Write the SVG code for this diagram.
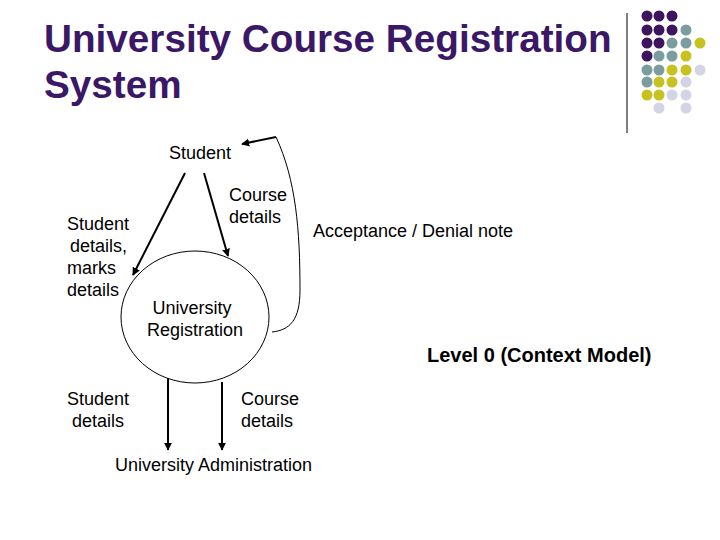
<svg xmlns="http://www.w3.org/2000/svg" width="720" height="540" viewBox="0 0 720 540">
<defs>
<style>
.t{font-family:"Liberation Sans",Arial,sans-serif;font-size:18px;fill:#000}
.title{font-family:"Liberation Sans",Arial,sans-serif;font-size:38.7px;font-weight:bold;fill:#3b1866}
.b{font-weight:bold;font-size:20px}
.ln{stroke:#000;stroke-width:2;fill:none}
.thin{stroke:#000;stroke-width:1;fill:none}
.p{fill:#3d145e}.g{fill:#7b9d9f}.y{fill:#c6c21f}.l{fill:#d4d4e6}
</style>
<marker id="ah" viewBox="0 0 10 10" refX="9" refY="5" markerWidth="4" markerHeight="4" orient="auto" markerUnits="strokeWidth">
<path d="M0,0 L10,5 L0,10 z" fill="#000"/>
</marker>
</defs>
<rect width="720" height="540" fill="#fff"/>
<g id="title">
<text class="title" x="44" y="52">University Course Registration</text>
<text class="title" x="44" y="98">System</text>
</g>
<g id="decoration">
<line x1="627" y1="13" x2="627" y2="133" stroke="#000" stroke-width="1"/>
<circle class="p" cx="647" cy="16" r="5.5"/><circle class="p" cx="659" cy="16" r="5.5"/><circle class="p" cx="672" cy="16" r="5.5"/>
<circle class="p" cx="647" cy="30" r="5.5"/><circle class="p" cx="659" cy="30" r="5.5"/><circle class="p" cx="672" cy="30" r="5.5"/><circle class="g" cx="686" cy="30" r="5.5"/>
<circle class="p" cx="647" cy="43" r="5.5"/><circle class="p" cx="659" cy="43" r="5.5"/><circle class="g" cx="672" cy="43" r="5.5"/><circle class="g" cx="686" cy="43" r="5.5"/><circle class="y" cx="700" cy="43" r="5.5"/>
<circle class="p" cx="647" cy="56" r="5.5"/><circle class="g" cx="659" cy="56" r="5.5"/><circle class="g" cx="672" cy="56" r="5.5"/><circle class="y" cx="686" cy="56" r="5.5"/>
<circle class="g" cx="647" cy="70" r="5.5"/><circle class="g" cx="659" cy="70" r="5.5"/><circle class="y" cx="672" cy="70" r="5.5"/><circle class="y" cx="686" cy="70" r="5.5"/><circle class="l" cx="700" cy="70" r="5.5"/>
<circle class="g" cx="647" cy="82" r="5.5"/><circle class="y" cx="659" cy="82" r="5.5"/><circle class="y" cx="672" cy="82" r="5.5"/><circle class="l" cx="686" cy="82" r="5.5"/>
<circle class="y" cx="647" cy="95" r="5.5"/><circle class="y" cx="659" cy="95" r="5.5"/><circle class="l" cx="672" cy="95" r="5.5"/><circle class="l" cx="686" cy="95" r="5.5"/>
<circle class="l" cx="659" cy="108" r="5.5"/><circle class="l" cx="686" cy="108" r="5.5"/>
</g>
<g id="student">
<text class="t" x="200" y="159" text-anchor="middle">Student</text>
</g>
<g id="university-registration">
<ellipse cx="195" cy="317" rx="74" ry="66" class="thin"/>
<text class="t" x="192" y="314" text-anchor="middle">University</text>
<text class="t" x="195" y="336" text-anchor="middle">Registration</text>
</g>
<g id="university-administration">
<text class="t" x="115" y="471">University Administration</text>
</g>
<g id="level">
<text class="t b" x="427" y="362">Level 0 (Context Model)</text>
</g>
<g id="connectors">
<line class="ln" x1="185" y1="173" x2="133" y2="275" marker-end="url(#ah)"/>
<line class="ln" x1="204" y1="173" x2="228" y2="256" marker-end="url(#ah)"/>
<path class="thin" d="M272,332 C290,330 300,320 300,290 C300,230 296,180 276,137"/>
<line class="ln" x1="276" y1="137" x2="242" y2="144" marker-end="url(#ah)"/>
<line class="ln" x1="168" y1="378" x2="168" y2="450" marker-end="url(#ah)"/>
<line class="ln" x1="222" y1="382" x2="222" y2="450" marker-end="url(#ah)"/>
<text class="t" x="258" y="201" text-anchor="middle">Course</text>
<text class="t" x="255" y="223" text-anchor="middle">details</text>
<text class="t" x="67" y="230">Student</text>
<text class="t" x="70" y="252">details,</text>
<text class="t" x="67" y="274">marks</text>
<text class="t" x="67" y="296">details</text>
<text class="t" x="313" y="237">Acceptance / Denial note</text>
<text class="t" x="98" y="405" text-anchor="middle">Student</text>
<text class="t" x="98" y="427" text-anchor="middle">details</text>
<text class="t" x="241" y="405">Course</text>
<text class="t" x="241" y="427">details</text>
</g>
</svg>
